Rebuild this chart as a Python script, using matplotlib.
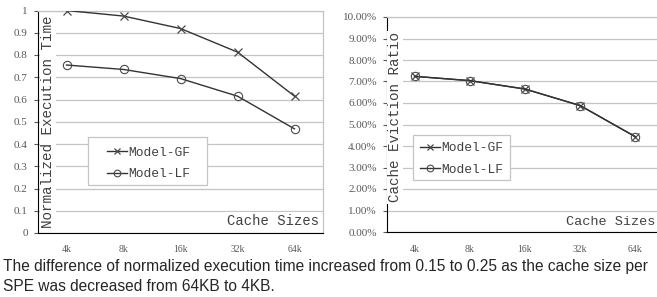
import matplotlib
matplotlib.use("Agg")
import matplotlib.pyplot as plt
from matplotlib.ticker import FuncFormatter
from matplotlib.patches import Rectangle

categories = ["4k", "8k", "16k", "32k", "64k"]
exec_gf = [1.0, 0.975, 0.919, 0.813, 0.615]
exec_lf = [0.755, 0.735, 0.694, 0.615, 0.468]
evict_gf = [0.0724, 0.0704, 0.0665, 0.0588, 0.0443]
evict_lf = [0.0724, 0.0704, 0.0665, 0.0588, 0.0443]
series_names = ["Model-GF", "Model-LF"]
caption = ("The difference of normalized execution time increased from 0.15 to 0.25 as the cache size per\n"
           "SPE was decreased from 64KB to 4KB.")

MONO = "Liberation Mono"
LINE_C = "#333333"
MARK_C = "#4a4a4a"
GRID_C = "#c4c4c4"
TICK_C = "#595959"
TEXT_C = "#404040"

fig = plt.figure(figsize=(6.57, 2.97), dpi=100)


def make(ax, gf, lf, ylim, yticks, fmt, ylabel, ylab_xy, leg_center, leg_box):
    x = list(range(len(categories)))
    ax.plot(x, gf, color=LINE_C, lw=1.0, marker="x", ms=6, mec=MARK_C, mew=0.9,
            label=series_names[0], zorder=3)
    ax.plot(x, lf, color=LINE_C, lw=1.0, marker="o", ms=6, mfc="none", mec=MARK_C, mew=0.8,
            label=series_names[1], zorder=3)
    ax.set_xlim(-0.5, len(categories) - 0.5)
    ax.set_ylim(*ylim)
    ax.set_yticks(yticks)
    ax.yaxis.set_major_formatter(FuncFormatter(fmt))
    ax.set_xticks(x)
    ax.set_xticklabels(categories)
    ax.grid(axis="y", color=GRID_C, lw=0.9)
    ax.set_axisbelow(True)
    ax.spines["left"].set_color("black")
    ax.spines["bottom"].set_color("black")
    ax.tick_params(axis="y", length=2.9, width=0.8, color=TICK_C, labelsize=8,
                   labelcolor=TICK_C, pad=4.5)
    ax.tick_params(axis="x", length=0, labelsize=7, labelcolor=TICK_C, pad=9)
    for lab in ax.get_xticklabels() + ax.get_yticklabels():
        lab.set_family("Liberation Serif")
    ax.text(ylab_xy[0], ylab_xy[1], ylabel, transform=ax.transAxes, rotation=90,
            ha="center", va="center", family=MONO, fontsize=10.3, color=TEXT_C,
            bbox=dict(facecolor="white", edgecolor="none", pad=1.0), zorder=5)
    # legend box
    x0, y0, x1, y1 = leg_box
    ax.add_patch(Rectangle((x0, y0), x1 - x0, y1 - y0, transform=ax.transAxes,
                           facecolor="white", edgecolor=GRID_C, lw=0.9, zorder=6))
    leg = ax.legend(loc="center", bbox_to_anchor=leg_center, prop={"family": MONO, "size": 9.3},
                    frameon=False, handlelength=1.5, handletextpad=0.1, borderpad=0.2,
                    labelspacing=0.75, borderaxespad=0, markerscale=0.8)
    leg.set_zorder(7)
    for t in leg.get_texts():
        t.set_color(TEXT_C)
    return ax


# Left panel
ax1 = fig.add_axes([38/657, 1-233/297, (323-38)/657, (233-10.5)/297])
make(ax1, exec_gf, exec_lf, (0, 1.0), [i/10 for i in range(11)],
     lambda v, p: "0" if v == 0 else ("1" if v == 1 else f"{v:.1f}"),
     "Normalized Execution Time", (0.035, 0.501),
     (0.388, 0.312), (0.175, 0.216, 0.593, 0.431))
for s in ["top", "right"]:
    ax1.spines[s].set_color(GRID_C)
    ax1.spines[s].set_linewidth(0.9)
ax1.text(0.985, 0.055, "Cache Sizes", transform=ax1.transAxes, ha="right", va="center",
         family=MONO, fontsize=10, color=TEXT_C,
         bbox=dict(facecolor="white", edgecolor="none", pad=1.0), zorder=5)

# Right panel
ax2 = fig.add_axes([387/657, 1-232/297, (663-387)/657, (232-17)/297])
make(ax2, evict_gf, evict_lf, (0, 0.10), [i/100 for i in range(11)],
     lambda v, p: f"{v*100:.2f}%",
     "Cache Eviction Ratio", (0.029, 0.533),
     (0.27, 0.34), (0.094, 0.242, 0.446, 0.451))
ax2.spines["top"].set_color(GRID_C)
ax2.spines["top"].set_linewidth(0.9)
ax2.spines["right"].set_color("none")
ax2.text(0.650, 0.045, "Cache Sizes", transform=ax2.transAxes, ha="left", va="center",
         family=MONO, fontsize=9.7, color=TEXT_C,
         bbox=dict(facecolor="white", edgecolor="none", pad=1.0), zorder=5)

# Caption, one line per row
for i, line in enumerate(caption.split("\n")):
    fig.text(3/657, 1 - (271 + 20*i)/297, line, ha="left", va="baseline",
             family="Liberation Sans", fontsize=11.2, color="#262626")

fig.savefig("out.png", dpi=100)
